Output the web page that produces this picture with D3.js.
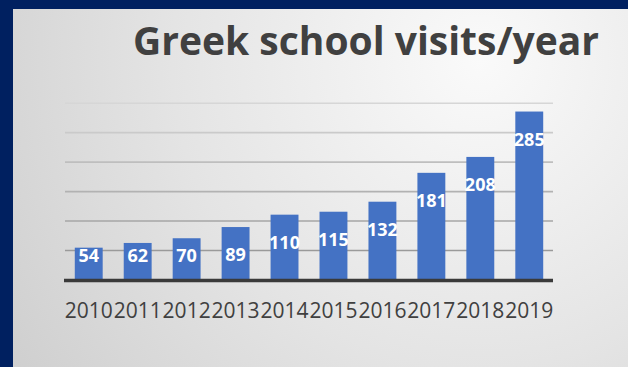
<!DOCTYPE html>
<html>
<head>
<meta charset="utf-8">
<script src="https://cdn.jsdelivr.net/npm/d3@7"></script>
<style>
    body { margin: 0; background: #002060; }
    svg { display: block; }
</style>
</head>
<body>
<div id="chart-area"></div>
<script>
const years = ["2010", "2011", "2012", "2013", "2014", "2015", "2016", "2017", "2018", "2019"];
const visits = [54, 62, 70, 89, 110, 115, 132, 181, 208, 285];
const gridTicks = [0, 50, 100, 150, 200, 250, 300];
const title = "Greek school visits/year";

const WIDTH = 628,
    HEIGHT = 367,
    PLOT_LEFT = 65,
    PLOT_RIGHT = 553,
    PLOT_BOTTOM = 279.5,
    PLOT_TOP = 102.7,
    COLOR_BG = '#002060',     // navy frame
    COLOR_BAR = '#4472C4',
    COLOR_TEXT = '#404040',
    FONT = '"Open Sans", "DejaVu Sans", sans-serif';

const svg = d3.select("#chart-area")
    .append("svg")
    .attr("width", WIDTH)
    .attr("height", HEIGHT);

// panel background, light near the title, greyer at bottom left
const defs = svg.append("defs");
const grad = defs.append("radialGradient")
    .attr("id", "panel")
    .attr("gradientUnits", "userSpaceOnUse")
    .attr("cx", 480).attr("cy", 60).attr("r", 560);
grad.append("stop").attr("offset", "0%").attr("stop-color", "#fafafa");
grad.append("stop").attr("offset", "55%").attr("stop-color", "#e4e4e4");
grad.append("stop").attr("offset", "100%").attr("stop-color", "#cfcfcf");

svg.append("rect")
    .attr("width", WIDTH).attr("height", HEIGHT)
    .attr("fill", COLOR_BG);

svg.append("rect")
    .attr("x", 13).attr("y", 9)
    .attr("width", WIDTH - 13).attr("height", HEIGHT - 9)
    .attr("fill", "url(#panel)");

const x = d3.scaleBand()
    .domain(years)
    .range([PLOT_LEFT, PLOT_RIGHT])
    .paddingInner(0.43)
    .paddingOuter(0.2);

const y = d3.scaleLinear()
    .domain([0, 300])
    .range([PLOT_BOTTOM, PLOT_TOP]);

// gridlines get darker towards the bottom, as in the slide
const gridColor = d3.scaleLinear().domain([0, 300]).range(["#8e8e8e", "#d6d6d6"]);

const grid = svg.append("g")
    .attr("transform", `translate(${PLOT_LEFT},0)`)
    .call(d3.axisLeft(y)
        .tickValues(gridTicks.slice(1))
        .tickSize(-(PLOT_RIGHT - PLOT_LEFT))
        .tickFormat(""));
grid.select(".domain").remove();
grid.selectAll(".tick line")
    .attr("stroke", d => gridColor(d))
    .attr("stroke-width", 1.6);

// bars
svg.append("g")
    .selectAll("rect")
    .data(visits)
    .join("rect")
    .attr("x", (d, i) => x(years[i]))
    .attr("y", d => y(d))
    .attr("width", x.bandwidth())
    .attr("height", d => y(0) - y(d))
    .attr("fill", COLOR_BAR);

// baseline
svg.append("line")
    .attr("x1", PLOT_LEFT - 1).attr("x2", PLOT_RIGHT)
    .attr("y1", y(0) + 1).attr("y2", y(0) + 1)
    .attr("stroke", "#3a3a3a")
    .attr("stroke-width", 3.5);

// value labels
svg.append("g")
    .selectAll("text")
    .data(visits)
    .join("text")
    .attr("x", (d, i) => x(years[i]) + x.bandwidth() / 2)
    .attr("y", d => Math.min(y(d) + 34, 262))
    .attr("text-anchor", "middle")
    .attr("fill", "#fff")
    .style("font-family", FONT)
    .style("font-weight", "bold")
    .style("font-size", "18px")
    .text(d => d);

// year labels
const xAxis = svg.append("g")
    .attr("transform", `translate(0,${PLOT_BOTTOM})`)
    .call(d3.axisBottom(x).tickSize(0).tickPadding(0));
xAxis.select(".domain").remove();
xAxis.selectAll("text")
    .attr("dy", null)
    .attr("y", 38.5)
    .attr("fill", COLOR_TEXT)
    .style("font-family", FONT)
    .style("font-size", "21px");

// title, fitted to the width it has in the slide
const t = svg.append("text")
    .attr("x", 133)
    .attr("y", 55)
    .attr("fill", COLOR_TEXT)
    .style("font-family", FONT)
    .style("font-weight", "bold")
    .style("font-size", "39px")
    .text(title);
const w = t.node().getComputedTextLength();
if (w > 469) t.style("font-size", (39 * 469 / w) + "px");
</script>
</body>
</html>
